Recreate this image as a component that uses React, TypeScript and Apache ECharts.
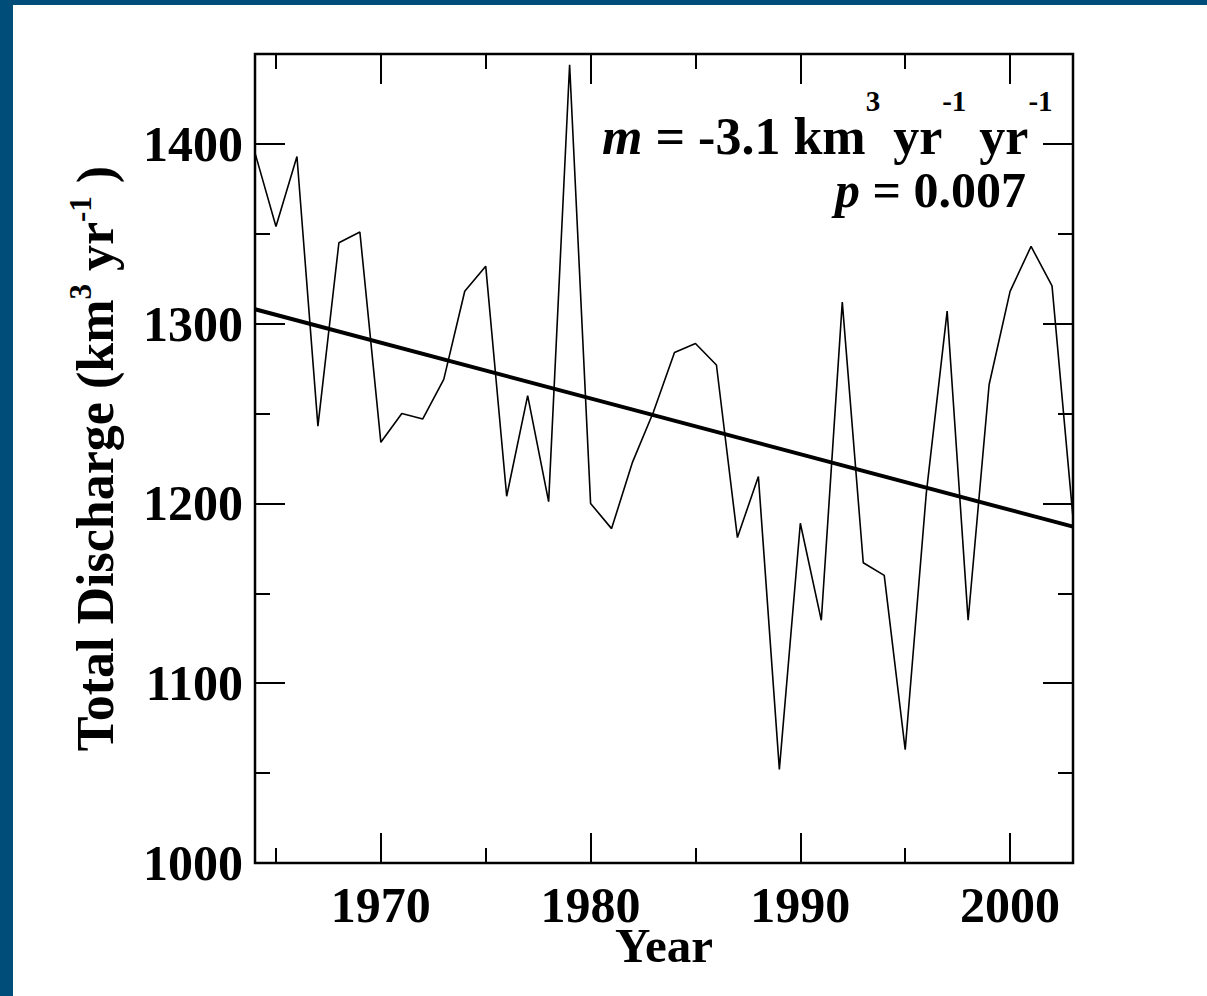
import { useEffect, useRef } from "react";
import * as echarts from "echarts";

// Annual total discharge, km^3 per year
const years = [
  1964, 1965, 1966, 1967, 1968, 1969, 1970, 1971, 1972, 1973,
  1974, 1975, 1976, 1977, 1978, 1979, 1980, 1981, 1982, 1983,
  1984, 1985, 1986, 1987, 1988, 1989, 1990, 1991, 1992, 1993,
  1994, 1995, 1996, 1997, 1998, 1999, 2000, 2001, 2002, 2003,
];
const discharge = [
  1395, 1354, 1393, 1243, 1345, 1351, 1234, 1250, 1247, 1269,
  1318, 1332, 1204, 1260, 1201, 1444, 1200, 1186, 1223, 1251,
  1284, 1289, 1277, 1181, 1215, 1052, 1189, 1135, 1312, 1167,
  1160, 1063, 1205, 1307, 1135, 1266, 1318, 1343, 1321, 1192,
];

// Linear trend (m = -3.1 km^3/yr/yr) end points
const trendYears = [1964, 2003];
const trendValues = [1308, 1187.1];

// Axis ticks
const yearMajorTicks = [1970, 1980, 1990, 2000];
const yearMinorTicks = [1965, 1975, 1985, 1995];
const dischargeMajorTicks = [1000, 1100, 1200, 1300, 1400];
const dischargeMinorTicks = [1050, 1150, 1250, 1350];

const X_MIN = 1964;
const X_MAX = 2003;
const Y_MIN = 1000;
const Y_MAX = 1450;

const FONT = "'Liberation Serif', 'Times New Roman', serif";
const FRAME_BLUE = "#004d7a";

const boldText = {
  fontFamily: FONT,
  fontWeight: "bold" as const,
  color: "#000",
};

function tickAxis(
  kind: "x" | "y",
  position: string,
  ticks: number[],
  length: number,
  extra: Record<string, unknown> = {}
) {
  return {
    type: "value",
    position,
    min: kind === "x" ? X_MIN : Y_MIN,
    max: kind === "x" ? X_MAX : Y_MAX,
    axisLine: { show: false },
    splitLine: { show: false },
    axisTick: {
      show: true,
      inside: true,
      length,
      customValues: ticks,
      lineStyle: { color: "#000", width: 2 },
    },
    axisLabel: { show: false },
    ...extra,
  };
}

export default function App() {
  const ref = useRef<HTMLDivElement>(null);

  useEffect(() => {
    document.body.style.margin = "0";
    if (!ref.current) return;
    const chart = echarts.init(ref.current, undefined, { renderer: "svg" });

    const tickLabel = {
      show: true,
      ...boldText,
      fontSize: 50,
      formatter: (v: number) => String(v),
    };

    chart.setOption({
      animation: false,
      backgroundColor: "#fff",
      grid: {
        show: true,
        left: 255,
        top: 54,
        width: 818,
        height: 809,
        borderColor: "#000",
        borderWidth: 2.5,
        backgroundColor: "transparent",
      },
      xAxis: [
        tickAxis("x", "bottom", yearMajorTicks, 30, {
          axisLabel: {
            ...tickLabel,
            margin: 17,
            customValues: yearMajorTicks,
          },
          name: "Year",
          nameLocation: "middle",
          nameGap: 58,
          nameMoveOverlap: false,
          nameTextStyle: {
            ...boldText,
            fontSize: 49,
            verticalAlign: "top",
          },
        }),
        tickAxis("x", "bottom", yearMinorTicks, 15),
        tickAxis("x", "top", yearMajorTicks, 30),
        tickAxis("x", "top", yearMinorTicks, 15),
      ],
      yAxis: [
        tickAxis("y", "left", dischargeMajorTicks, 30, {
          axisLabel: {
            ...tickLabel,
            margin: 12,
            customValues: dischargeMajorTicks,
          },
          name: "{t|Total Discharge (km}{s|3}{t| yr}{s|-1}{t| )}",
          nameLocation: "middle",
          nameRotate: 90,
          nameGap: 130,
          nameTextStyle: {
            rich: {
              t: { ...boldText, fontSize: 52, lineHeight: 60 },
              s: { ...boldText, fontSize: 31, lineHeight: 40, verticalAlign: "top" },
            },
          },
        }),
        tickAxis("y", "left", dischargeMinorTicks, 15),
        tickAxis("y", "right", dischargeMajorTicks, 30),
        tickAxis("y", "right", dischargeMinorTicks, 15),
      ],
      graphic: [
        {
          type: "rect",
          shape: { x: 0, y: 0, width: 13, height: 996 },
          style: { fill: FRAME_BLUE },
          silent: true,
        },
        {
          type: "rect",
          shape: { x: 0, y: 0, width: 1207, height: 5 },
          style: { fill: FRAME_BLUE },
          silent: true,
        },
        {
          type: "text",
          x: 602,
          y: 86,
          style: {
            text: "{mi|m}{t| = -3.1 km}{s|3}{t| yr}{s|-1}{t| yr}{s|-1}",
            rich: {
              t: { ...boldText, fontSize: 52, lineHeight: 100 },
              mi: { ...boldText, fontSize: 52, lineHeight: 100, fontStyle: "italic" },
              s: { ...boldText, fontSize: 29, verticalAlign: "top" },
            },
          },
        },
        {
          type: "text",
          x: 1026,
          y: 186,
          style: {
            text: "{mi|p}{t| = 0.007}",
            align: "right",
            rich: {
              t: { ...boldText, fontSize: 50, lineHeight: 8 },
              mi: { ...boldText, fontSize: 50, lineHeight: 8, fontStyle: "italic" },
            },
          },
        },
      ],
      series: [
        {
          type: "line",
          name: "Total discharge",
          xAxisIndex: 0,
          yAxisIndex: 0,
          data: years.map((yr, i) => [yr, discharge[i]]),
          symbol: "none",
          lineStyle: { color: "#000", width: 1.6 },
          z: 3,
        },
        {
          type: "line",
          name: "Trend",
          xAxisIndex: 0,
          yAxisIndex: 0,
          data: trendYears.map((yr, i) => [yr, trendValues[i]]),
          symbol: "none",
          lineStyle: { color: "#000", width: 4 },
          z: 4,
        },
      ],
    });

    return () => {
      chart.dispose();
    };
  }, []);

  return (
    <div
      style={{
        position: "fixed",
        left: 0,
        top: 0,
        width: 1207,
        height: 996,
        background: "#fff",
      }}
    >
      <div ref={ref} style={{ width: 1207, height: 996 }} />
    </div>
  );
}
